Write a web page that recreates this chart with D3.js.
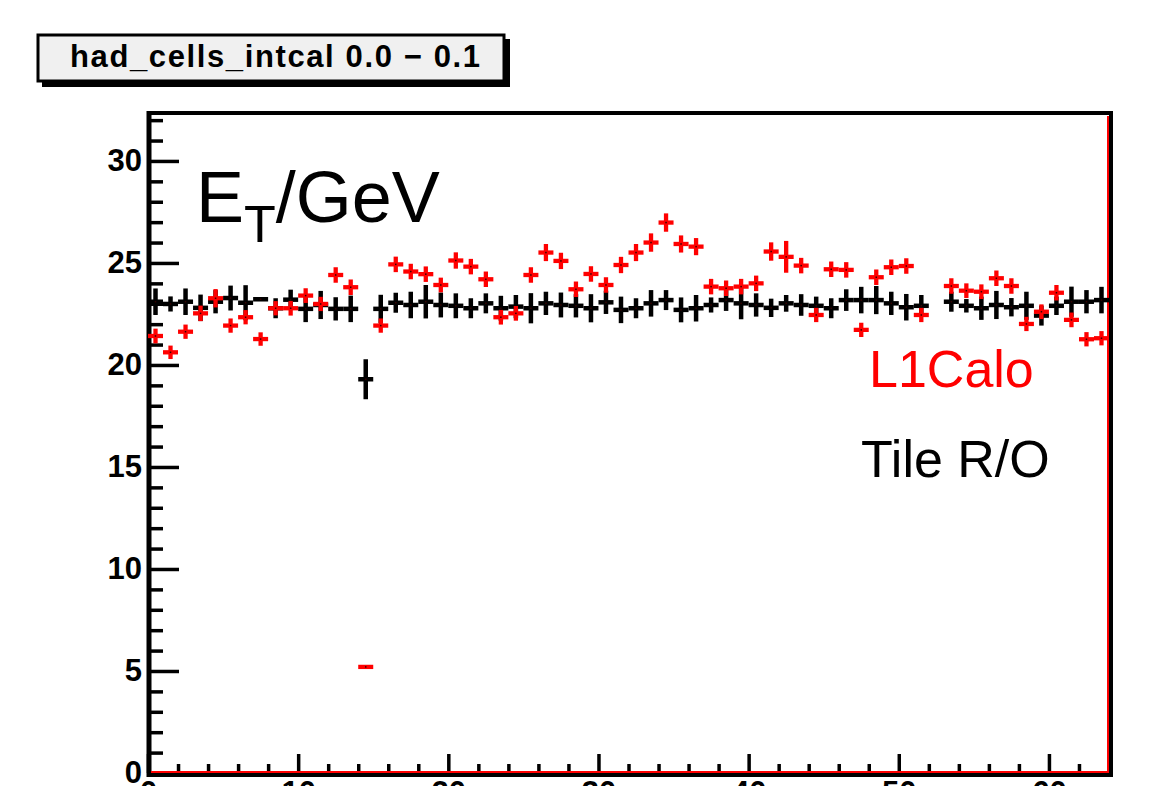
<!DOCTYPE html>
<html>
<head>
<meta charset="utf-8">
<title>had_cells_intcal 0.0 - 0.1</title>
<script src="https://d3js.org/d3.v7.min.js"></script>
<style>
  body { margin: 0; background: #fff; overflow: hidden; }
  svg { display: block; font-family: "Liberation Sans", Arial, sans-serif; }
  .axis .domain { display: none; }
  .axis line { stroke: #000; stroke-width: 3.5; }
  .axis text { font-size: 31px; font-weight: bold; fill: #000; font-family: "Liberation Sans", Arial, sans-serif; }
</style>
</head>
<body>
<div id="chart"></div>
<script>
// histogram settings
const title = "had_cells_intcal 0.0 \u2212 0.1";
const xRange = [0, 64];
const yRange = [0, 32.35];
const xMajorTicks = [0, 10, 20, 30, 40, 50, 60];
const yMajorTicks = [0, 5, 10, 15, 20, 25, 30];

// bin lower edges (unit-width bins 0..63)
const binEdges = d3.range(0, 64);

// Tile R/O (black)
const tileValues = [
  23.10, 22.99, 23.10, 22.80, 23.10, 23.28, 23.05, 23.22, 22.78, 23.20,
  22.75, 22.94, 22.75, 22.75, 19.30, 22.75, 23.05, 22.94, 23.10, 22.94,
  22.90, 22.78, 23.02, 22.78, 22.86, 22.78, 23.02, 22.94, 22.90, 22.78,
  23.07, 22.70, 22.78, 23.02, 23.18, 22.70, 22.78, 22.94, 23.18, 23.02,
  22.94, 22.80, 23.02, 22.94, 22.90, 22.78, 23.18, 23.18, 23.18, 23.02,
  22.83, 22.90, null,  23.10, 22.90, 22.78, 22.94, 22.83, 22.90, 22.42,
  22.90, 23.10, 23.10, 23.18
];
const tileErrors = [
  0.65, 0.37, 0.65, 0.65, 0.57, 0.61, 0.86, 0.05, 0.49, 0.49,
  0.65, 0.69, 0.57, 0.65, 0.98, 0.69, 0.49, 0.65, 0.82, 0.61,
  0.61, 0.49, 0.49, 0.61, 0.57, 0.74, 0.57, 0.61, 0.57, 0.69,
  0.57, 0.65, 0.49, 0.65, 0.49, 0.61, 0.65, 0.37, 0.53, 0.78,
  0.57, 0.45, 0.41, 0.53, 0.45, 0.49, 0.53, 0.65, 0.69, 0.57,
  0.65, 0.53, null, 0.49, 0.33, 0.57, 0.69, 0.45, 0.69, 0.49,
  0.45, 0.74, 0.57, 0.65
];

// L1Calo (red)
const l1caloValues = [
  21.42, 20.62, 21.63, 22.53, 23.27, 21.93, 22.34, 21.27, 22.78, 22.78,
  23.40, 22.99, 24.41, 23.81, 5.20, 21.93, 24.93, 24.58, 24.45, 23.92,
  25.12, 24.82, 24.20, 22.34, 22.53, 24.41, 25.51, 25.10, 23.71, 24.46,
  23.92, 24.90, 25.51, 26.00, 26.98, 25.93, 25.80, 23.84, 23.76, 23.84,
  24.00, 25.56, 25.30, 24.87, 22.45, 24.69, 24.66, 21.72, 24.30, 24.79,
  24.85, 22.45, null,  23.87, 23.64, 23.59, 24.25, 23.87, 22.01, 22.61,
  23.54, 22.21, 21.26, 21.31
];
const l1caloErrors = [
  0.36, 0.33, 0.35, 0.38, 0.45, 0.35, 0.35, 0.33, 0.35, 0.36,
  0.36, 0.35, 0.38, 0.38, 0.03, 0.35, 0.38, 0.38, 0.38, 0.36,
  0.40, 0.38, 0.38, 0.36, 0.36, 0.38, 0.42, 0.40, 0.38, 0.38,
  0.38, 0.40, 0.42, 0.45, 0.45, 0.42, 0.42, 0.38, 0.38, 0.38,
  0.38, 0.45, 0.78, 0.38, 0.35, 0.38, 0.38, 0.35, 0.38, 0.38,
  0.38, 0.35, null, 0.38, 0.36, 0.36, 0.38, 0.38, 0.35, 0.36,
  0.38, 0.36, 0.35, 0.35
];

const width = 1163;
const height = 786;
const frame = { left: 148, right: 1109, top: 113, bottom: 773 };

const svg = d3.select('#chart')
  .append('svg')
  .attr('width', width)
  .attr('height', height);

svg.append('rect').attr('width', width).attr('height', height).attr('fill', '#fff');

const x = d3.scaleLinear().domain(xRange).range([frame.left, frame.right]);
const y = d3.scaleLinear().domain(yRange).range([frame.bottom, frame.top]);

// title box with shadow
svg.append('rect')
  .attr('x', 42).attr('y', 39).attr('width', 468).attr('height', 48)
  .attr('fill', '#000');
svg.append('rect')
  .attr('x', 38).attr('y', 35).attr('width', 466).attr('height', 46)
  .attr('fill', '#f0f0f0').attr('stroke', '#000').attr('stroke-width', 3);
svg.append('text')
  .attr('x', 70).attr('y', 67)
  .attr('textLength', 410).attr('lengthAdjust', 'spacing')
  .style('font-size', '31px').style('font-weight', 'bold')
  .text(title);

// axes (ROOT style, ticks pointing inside)
const yMinor = d3.range(0, 33, 1).filter(v => !yMajorTicks.includes(v));
const xMinor = d3.range(0, 65, 2).filter(v => !xMajorTicks.includes(v));

svg.append('g').attr('class', 'axis')
  .attr('transform', `translate(${frame.left + 1},0)`)
  .call(d3.axisLeft(y).tickValues(yMinor).tickSize(-14).tickFormat(''));
svg.append('g').attr('class', 'axis')
  .attr('transform', `translate(${frame.left + 1},0)`)
  .call(d3.axisLeft(y).tickValues(yMajorTicks).tickSize(-30).tickPadding(7).tickFormat(d3.format('d')));

svg.append('g').attr('class', 'axis')
  .attr('transform', `translate(0,${frame.bottom})`)
  .call(d3.axisBottom(x).tickValues(xMinor).tickSize(-9).tickFormat(''));
svg.append('g').attr('class', 'axis')
  .attr('transform', `translate(0,${frame.bottom})`)
  .call(d3.axisBottom(x).tickValues(xMajorTicks).tickSize(-19).tickPadding(8).tickFormat(d3.format('d')));

// frame
const fr = svg.append('g');
fr.append('line').attr('x1', frame.left + 1).attr('x2', frame.left + 1)
  .attr('y1', frame.top - 2).attr('y2', frame.bottom + 4)
  .attr('stroke', '#000').attr('stroke-width', 5);
fr.append('line').attr('x1', frame.left - 1).attr('x2', frame.right + 4)
  .attr('y1', frame.top).attr('y2', frame.top)
  .attr('stroke', '#000').attr('stroke-width', 4);
fr.append('line').attr('x1', frame.right + 2).attr('x2', frame.right + 2)
  .attr('y1', frame.top - 2).attr('y2', frame.bottom + 4)
  .attr('stroke', '#000').attr('stroke-width', 4);
fr.append('line').attr('x1', frame.left - 1).attr('x2', frame.right + 4)
  .attr('y1', frame.bottom + 2).attr('y2', frame.bottom + 2)
  .attr('stroke', '#000').attr('stroke-width', 4);
// red histogram frame lines
fr.append('line').attr('x1', frame.left + 3).attr('x2', frame.right - 1)
  .attr('y1', frame.bottom - 1).attr('y2', frame.bottom - 1)
  .attr('stroke', '#ff0000').attr('stroke-width', 2);
fr.append('line').attr('x1', frame.right - 1).attr('x2', frame.right - 1)
  .attr('y1', frame.top + 3).attr('y2', frame.bottom)
  .attr('stroke', '#ff0000').attr('stroke-width', 2);

// error-bar series
function drawSeries(values, errors, color, lw) {
  const pts = binEdges.map((lo, i) => ({ lo, v: values[i], e: errors[i] }))
    .filter(d => d.v !== null);
  const g = svg.append('g');
  g.selectAll('line.h').data(pts).enter().append('line')
    .attr('x1', d => x(d.lo)).attr('x2', d => x(d.lo + 1))
    .attr('y1', d => y(d.v)).attr('y2', d => y(d.v))
    .attr('stroke', color).attr('stroke-width', lw);
  g.selectAll('line.v').data(pts).enter().append('line')
    .attr('x1', d => x(d.lo + 0.5)).attr('x2', d => x(d.lo + 0.5))
    .attr('y1', d => y(d.v - d.e)).attr('y2', d => y(d.v + d.e))
    .attr('stroke', color).attr('stroke-width', lw);
  g.selectAll('rect').data(pts).enter().append('rect')
    .attr('x', d => x(d.lo + 0.5) - 0.75).attr('y', d => y(d.v) - 0.75)
    .attr('width', 1.5).attr('height', 1.5).attr('fill', '#300');
}

drawSeries(tileValues, tileErrors, '#000', 4.5);
drawSeries(l1caloValues, l1caloErrors, '#ff0000', 4.3);

// labels
const et = svg.append('text').attr('x', 196).attr('y', 222).style('font-size', '72px');
et.append('tspan').text('E');
et.append('tspan').attr('dy', 20).style('font-size', '52px').text('T');
et.append('tspan').attr('dy', -20).text('/GeV');

svg.append('text').attr('x', 869).attr('y', 387)
  .style('font-size', '52px').attr('fill', '#ff0000').text('L1Calo');
svg.append('text').attr('x', 861).attr('y', 477)
  .style('font-size', '52px').attr('fill', '#000').text('Tile R/O');
</script>
</body>
</html>
